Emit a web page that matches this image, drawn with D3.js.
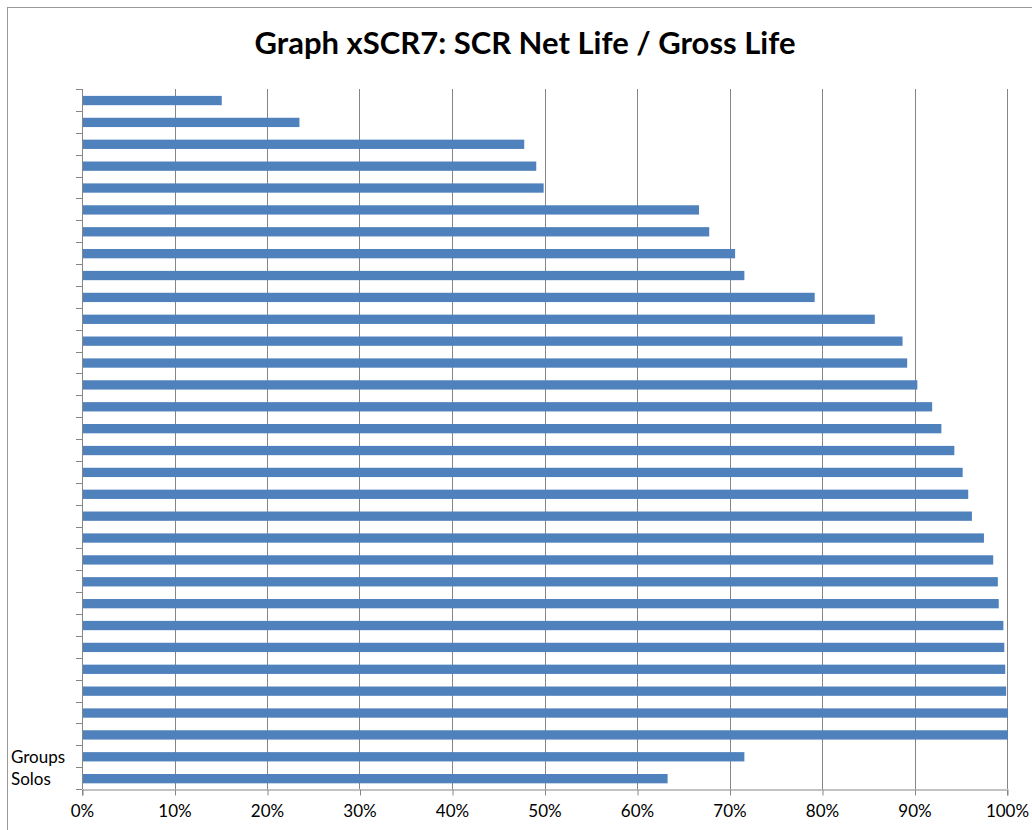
<!DOCTYPE html>
<html>
<head>
<meta charset="utf-8">
<script src="https://cdn.jsdelivr.net/npm/d3@7"></script>
<style>
    body { margin: 0; background: #fff; }
    svg { display: block; }
    text { font-family: Lato, "Open Sans", sans-serif; fill: #000; }
</style>
</head>
<body>
<div id="chart"></div>
<script>
// Category labels, top to bottom (most rows have no label)
var categories = ["", "", "", "", "", "", "", "", "", "", "", "", "", "", "", "",
    "", "", "", "", "", "", "", "", "", "", "", "", "", "", "Groups", "Solos"];

// SCR net life / gross life ratio, in percent
var ratios = [15.0, 23.4, 47.7, 49.0, 49.8, 66.6, 67.7, 70.5, 71.5, 79.1,
    85.6, 88.6, 89.1, 90.2, 91.8, 92.8, 94.2, 95.1, 95.7, 96.1,
    97.4, 98.4, 98.9, 99.0, 99.5, 99.6, 99.7, 99.8, 100.0, 100.0,
    71.5, 63.2];

var xTicks = [0, 10, 20, 30, 40, 50, 60, 70, 80, 90, 100];

var chartTitle = "Graph xSCR7: SCR Net Life / Gross Life";

(function () {
    "use strict";

    var width = 1032,
        height = 830,
        margin = {top: 89, right: 25, bottom: 41, left: 82},
        axisColor = "#868686",
        barColor = "#4F81BD";

    var svg = d3.select("#chart").append("svg")
        .attr("width", width)
        .attr("height", height);

    // outer chart frame
    svg.append("rect")
        .attr("x", 7.5)
        .attr("y", 7.5)
        .attr("width", width + 20)
        .attr("height", height + 20)
        .attr("fill", "none")
        .attr("stroke", "#999");

    svg.append("text")
        .attr("x", 525)
        .attr("y", 54)
        .attr("text-anchor", "middle")
        .style("font-weight", "bold")
        .style("font-size", "31px")
        .text(chartTitle);

    var x = d3.scaleLinear()
            .domain([0, 100])
            .range([margin.left, width - margin.right]),

        y = d3.scaleBand()
            .domain(d3.range(categories.length))
            .range([margin.top, height - margin.bottom])
            .paddingInner(0.575)
            .paddingOuter(0.2875);

    // vertical gridlines
    svg.append("g")
        .selectAll("line")
        .data(xTicks.slice(1))
        .enter()
        .append("line")
        .attr("x1", function (d) { return Math.round(x(d)) + 0.5; })
        .attr("x2", function (d) { return Math.round(x(d)) + 0.5; })
        .attr("y1", margin.top)
        .attr("y2", height - margin.bottom)
        .attr("stroke", axisColor);

    // bars
    svg.append("g")
        .selectAll("rect")
        .data(ratios)
        .enter()
        .append("rect")
        .attr("x", x(0) + 1)
        .attr("y", function (d, i) { return y(i) + 0.6; })
        .attr("width", function (d) { return x(d) - x(0); })
        .attr("height", y.bandwidth())
        .attr("fill", barColor);

    // x axis
    var xAxis = d3.axisBottom(x)
        .tickValues(xTicks)
        .tickSize(6)
        .tickFormat(function (d) { return d + "%"; });

    var gx = svg.append("g")
        .attr("transform", "translate(0," + (Math.round(height - margin.bottom) + 0.5) + ")")
        .call(xAxis);

    gx.selectAll(".domain, .tick line").attr("stroke", axisColor);
    gx.selectAll(".tick line").attr("transform", "translate(0.5,0)");
    gx.selectAll("text")
        .attr("y", 22)
        .attr("dy", "0.35em")
        .style("font-size", "17px")
        .style("font-family", "Lato, sans-serif");

    // y axis: ticks at category boundaries
    var step = y.step(),
        boundaries = d3.range(categories.length + 1).map(function (i) {
            return margin.top + i * step;
        });

    var gy = svg.append("g");

    gy.append("line")
        .attr("x1", margin.left + 0.5)
        .attr("x2", margin.left + 0.5)
        .attr("y1", margin.top)
        .attr("y2", height - margin.bottom)
        .attr("stroke", axisColor);

    gy.selectAll(".ytick")
        .data(boundaries)
        .enter()
        .append("line")
        .attr("class", "ytick")
        .attr("x1", margin.left - 6)
        .attr("x2", margin.left)
        .attr("y1", function (d) { return Math.round(d) + 0.5; })
        .attr("y2", function (d) { return Math.round(d) + 0.5; })
        .attr("stroke", axisColor);

    gy.selectAll(".ylabel")
        .data(categories)
        .enter()
        .append("text")
        .attr("class", "ylabel")
        .attr("x", 11)
        .attr("y", function (d, i) { return y(i) + y.bandwidth() / 2 + 0.6; })
        .attr("dy", "0.35em")
        .style("font-size", "17px")
        .text(function (d) { return d; });

}());
</script>
</body>
</html>
